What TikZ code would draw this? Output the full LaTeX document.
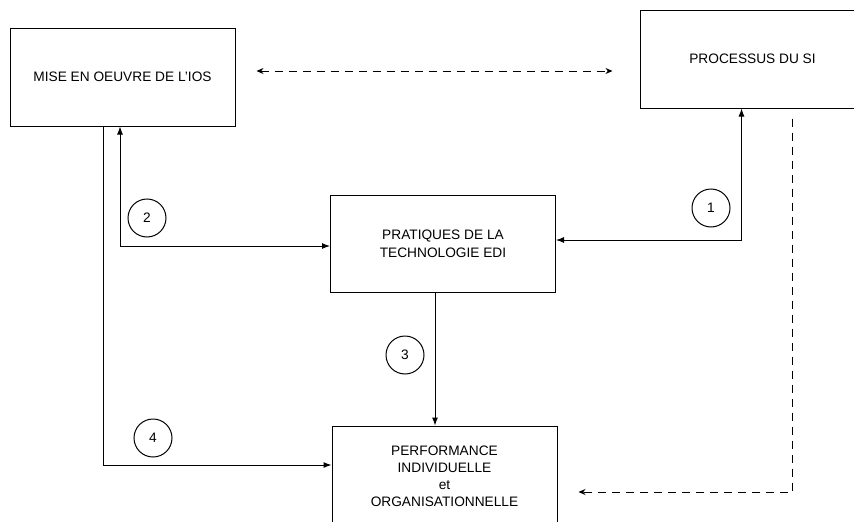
\documentclass[tikz,border=0pt]{standalone}
\usepackage{fontspec}
\setmainfont{Liberation Sans}
\usetikzlibrary{arrows.meta}

\begin{document}
\begin{tikzpicture}[x=1pt,y=-1pt,
    box/.style={draw,line width=1pt,minimum width=225pt,minimum height=98pt,align=center},
    arr/.style={line width=1pt,-{Latex[length=8pt,width=6pt]}},
    twoarr/.style={line width=1pt,{Latex[length=8pt,width=6pt]}-{Latex[length=8pt,width=6pt]}},
    dasharr/.style={line width=1pt,dash pattern=on 8pt off 6pt,{Stealth[length=7pt,width=6pt]}-{Stealth[length=7pt,width=6pt]}},
    font=\fontsize{13.7}{18}\selectfont]
    \useasboundingbox (0,0) rectangle (854,522);
    \node[box] (mise) at (122.5,77) {MISE EN OEUVRE DE L'IOS};
    \node[box] (proc) at (752.5,59) {PROCESSUS DU SI};
    \node[box,minimum height=97pt] (prat) at (443,243.5) {PRATIQUES DE LA\\TECHNOLOGIE EDI};
    \node[box,minimum height=100pt,font=\fontsize{13.7}{17}\selectfont] (perf) at (444.5,476) {PERFORMANCE\\INDIVIDUELLE\\et\\ORGANISATIONNELLE};
    \foreach \n/\x/\y in {1/711/208,2/147/218,3/405/355,4/153/438} {
      \node[circle,draw,line width=1pt,minimum size=38pt,inner sep=0pt] (c\n) at (\x,\y) {\n};
    }
    \draw[dasharr] ([xshift=21pt,yshift=6pt]mise.east) -- ([xshift=-27pt,yshift=6pt]mise.east -| proc.west);
    \draw[twoarr] ([xshift=-11pt]proc.south) |- ([yshift=3.5pt]prat.east);
    \draw[twoarr] ([xshift=-2.5pt]mise.south) |- ([yshift=-2.5pt]prat.west);
    \draw[arr] ([xshift=-8pt]prat.south) -- ([xshift=-8pt]prat.south |- perf.north);
    \draw[arr] ([xshift=-19.5pt]mise.south) |- ([yshift=11pt]perf.west);
    \draw[line width=1pt,dash pattern=on 8pt off 6pt,-{Stealth[length=7pt,width=6pt]}] ([xshift=40pt,yshift=-10pt]proc.south) |- ([xshift=21pt,yshift=-16pt]perf.east);
\end{tikzpicture}
\end{document}
